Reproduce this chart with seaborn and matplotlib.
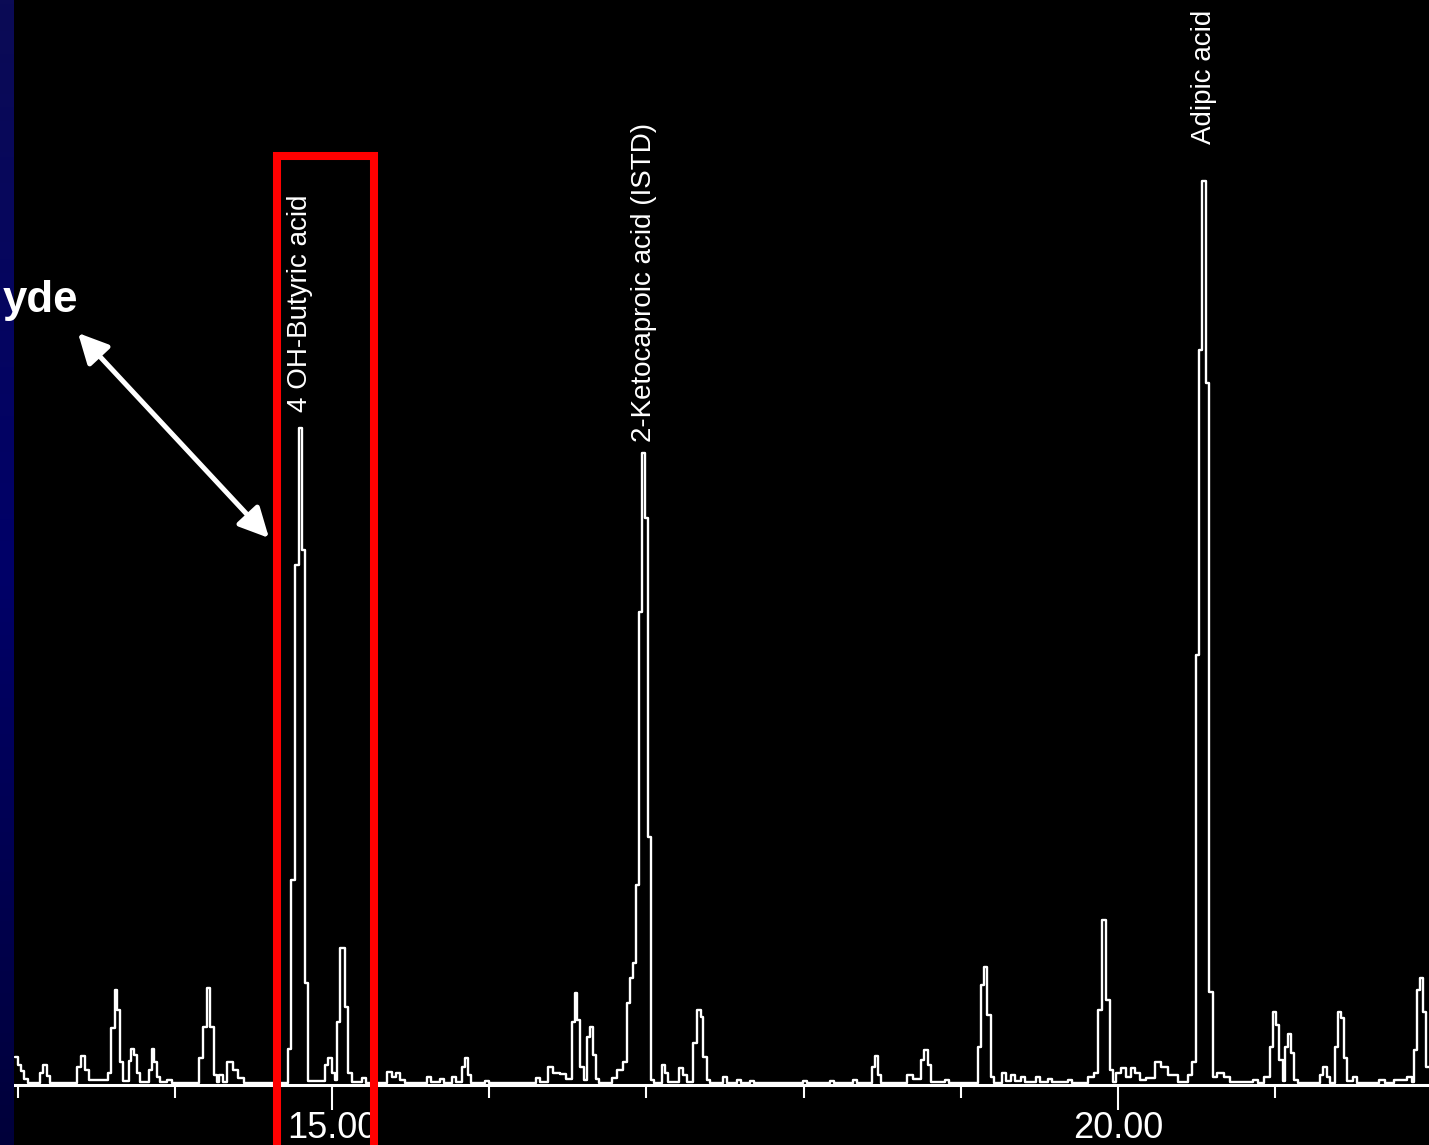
import numpy as np
import matplotlib
matplotlib.use("Agg")
import matplotlib.pyplot as plt
import seaborn as sns
import pandas as pd
from matplotlib.patches import Rectangle
from matplotlib.colors import LinearSegmentedColormap

# chromatogram trace: retention time (min) where each step starts, and response there
TIMES = [
    12.983, 13.003, 13.022, 13.041, 13.066, 13.143, 13.162, 13.187, 13.206, 13.378,
    13.403, 13.429, 13.454, 13.575, 13.597, 13.622, 13.635, 13.651, 13.670, 13.709,
    13.722, 13.741, 13.760, 13.777, 13.836, 13.855, 13.868, 13.887, 13.906, 13.950,
    13.980, 14.154, 14.179, 14.205, 14.224, 14.250, 14.269, 14.282, 14.307, 14.332,
    14.370, 14.402, 14.440, 14.720, 14.739, 14.765, 14.790, 14.809, 14.828, 14.847,
    14.955, 14.974, 15.000, 15.019, 15.032, 15.051, 15.083, 15.102, 15.127, 15.191,
    15.216, 15.350, 15.382, 15.407, 15.433, 15.465, 15.604, 15.630, 15.687, 15.712,
    15.763, 15.789, 15.827, 15.846, 15.865, 15.884, 15.970, 16.000, 16.298, 16.323,
    16.374, 16.406, 16.450, 16.489, 16.527, 16.546, 16.559, 16.578, 16.603, 16.622,
    16.641, 16.660, 16.679, 16.698, 16.781, 16.813, 16.851, 16.877, 16.896, 16.915,
    16.934, 16.953, 16.972, 16.991, 17.010, 17.029, 17.048, 17.099, 17.118, 17.137,
    17.208, 17.233, 17.258, 17.296, 17.322, 17.347, 17.360, 17.386, 17.405, 17.487,
    17.513, 17.576, 17.602, 17.659, 17.684, 17.996, 18.022, 18.168, 18.193, 18.314,
    18.340, 18.435, 18.454, 18.473, 18.493, 18.658, 18.696, 18.747, 18.766, 18.791,
    18.810, 18.899, 18.925, 19.109, 19.128, 19.147, 19.166, 19.192, 19.211, 19.262,
    19.287, 19.319, 19.345, 19.383, 19.408, 19.478, 19.503, 19.554, 19.580, 19.682,
    19.707, 19.809, 19.847, 19.873, 19.898, 19.924, 19.949, 19.968, 19.990, 20.019,
    20.051, 20.083, 20.108, 20.140, 20.178, 20.236, 20.274, 20.318, 20.381, 20.445,
    20.470, 20.496, 20.515, 20.534, 20.560, 20.579, 20.604, 20.630, 20.674, 20.712,
    20.860, 20.890, 20.930, 20.967, 20.986, 21.005, 21.024, 21.050, 21.062, 21.081,
    21.100, 21.120, 21.145, 21.285, 21.304, 21.329, 21.348, 21.380, 21.399, 21.419,
    21.438, 21.457, 21.495, 21.521, 21.661, 21.700, 21.756, 21.838, 21.870, 21.883,
    21.902, 21.921, 21.940, 21.960, 21.990,
]
RESPONSE = [
    28, 20, 14, 6, 2, 12, 20, 9, 2, 18,
    29, 15, 5, 12, 57, 95, 75, 23, 4, 24,
    36, 30, 12, 3, 15, 36, 23, 8, 3, 5,
    2, 27, 58, 97, 58, 10, 3, 10, 3, 23,
    15, 7, 2, 36, 205, 520, 657, 535, 102, 4,
    20, 27, 12, 5, 63, 137, 78, 12, 3, 7,
    2, 13, 8, 12, 5, 2, 8, 3, 6, 2,
    8, 3, 18, 27, 10, 2, 4, 2, 7, 3,
    18, 12, 11, 6, 63, 92, 65, 18, 5, 48,
    58, 30, 6, 2, 7, 15, 23, 82, 107, 122,
    200, 473, 632, 567, 248, 5, 2, 20, 12, 3,
    17, 10, 3, 42, 75, 68, 28, 5, 2, 8,
    2, 5, 2, 4, 2, 4, 2, 4, 2, 5,
    2, 18, 29, 10, 2, 10, 6, 25, 35, 20,
    3, 5, 2, 38, 100, 118, 70, 8, 2, 12,
    4, 10, 4, 8, 3, 8, 3, 6, 3, 5,
    2, 8, 12, 75, 165, 85, 15, 3, 12, 17,
    8, 17, 12, 5, 7, 23, 18, 10, 3, 10,
    23, 430, 735, 904, 702, 93, 8, 12, 8, 3,
    5, 2, 8, 38, 73, 60, 25, 4, 38, 51,
    32, 5, 2, 10, 18, 8, 2, 38, 73, 67,
    27, 4, 8, 2, 5, 2, 5, 8, 3, 35,
    95, 107, 73, 18, 18,
]

PEAK_NAMES = ["4 OH-Butyric acid", "2-Ketocaproic acid (ISTD)", "Adipic acid"]
PEAK_TIMES = [14.80, 16.98, 20.547]
LABEL_GAPS = [11.5, 8, 27]  # points between apex and label

MAJOR_TICKS = [15, 20]
MAJOR_LABELS = ["15.00", "20.00"]
MINOR_TICKS = [13, 14, 16, 17, 18, 19, 21]

W, H = 1429, 1145

sns.set_theme(style="dark", rc={"axes.facecolor": "black", "figure.facecolor": "black"})
plt.rcParams["font.family"] = ["Liberation Sans", "DejaVu Sans"]

fig = plt.figure(figsize=(W / 100, H / 100), dpi=100)
ax = fig.add_axes([0, 0, 1, 1])

df = pd.DataFrame({"time": TIMES, "response": RESPONSE})
sns.lineplot(data=df, x="time", y="response", ax=ax, color="white", lw=1.7,
             drawstyle="steps-post", estimator=None, sort=False)
ax.set_xlim(12.888, 21.978)
ax.set_ylim(-60, 1085)
ax.set_xlabel("")
ax.set_ylabel("")
ax.grid(False)

for s in ["left", "top", "right"]:
    ax.spines[s].set_visible(False)
ax.spines["bottom"].set_position(("data", 0))
ax.spines["bottom"].set_color("white")
ax.spines["bottom"].set_linewidth(2.2)
ax.set_yticks([])
ax.set_xticks(MAJOR_TICKS, MAJOR_LABELS)
ax.set_xticks(MINOR_TICKS, minor=True)
ax.tick_params(axis="x", which="major", bottom=True, direction="out", length=18,
               width=1.5, color="white", labelcolor="white", labelsize=26, pad=1)
ax.tick_params(axis="x", which="minor", bottom=True, direction="out", length=9.5,
               width=1.5, color="white")

# peak names above apexes
for name, t, gap in zip(PEAK_NAMES, PEAK_TIMES, LABEL_GAPS):
    i = np.searchsorted(TIMES, t, side="right") - 1
    x = (TIMES[i] + TIMES[i + 1]) / 2
    ax.annotate(name, xy=(x, RESPONSE[i]), xytext=(0, gap), textcoords="offset points",
                rotation=90, ha="center", va="bottom", color="white", fontsize=20)

# red box around the 4-OH-butyric acid region
ax.add_patch(Rectangle((14.653, -100), 15.270 - 14.653, 1029.5, fill=False,
                       ec="#ff0000", lw=5.8, zorder=5))

# double arrow from the cut-off slide label
ax.annotate("", xy=(269 / W, 1 - 538 / H), xycoords="figure fraction",
            xytext=(78 / W, 1 - 333 / H), textcoords="figure fraction",
            arrowprops=dict(arrowstyle="<|-|>,head_length=1.0,head_width=0.5",
                            mutation_scale=18, color="white", lw=3.6,
                            shrinkA=0, shrinkB=0))

# slide's blue side strip
strip = fig.add_axes([0, 0, 13 / W, 1])
cmap = LinearSegmentedColormap.from_list("strip", ["#0b0b55", "#000068", "#00003a"])
strip.imshow(np.linspace(0, 1, 256).reshape(-1, 1), aspect="auto", cmap=cmap)
strip.axis("off")

fig.text(78 / W, 1 - 312 / H, "yde", ha="right", va="baseline", color="white",
         fontsize=31.5, fontweight="bold")

fig.savefig("out.png", dpi=100, facecolor="black")
